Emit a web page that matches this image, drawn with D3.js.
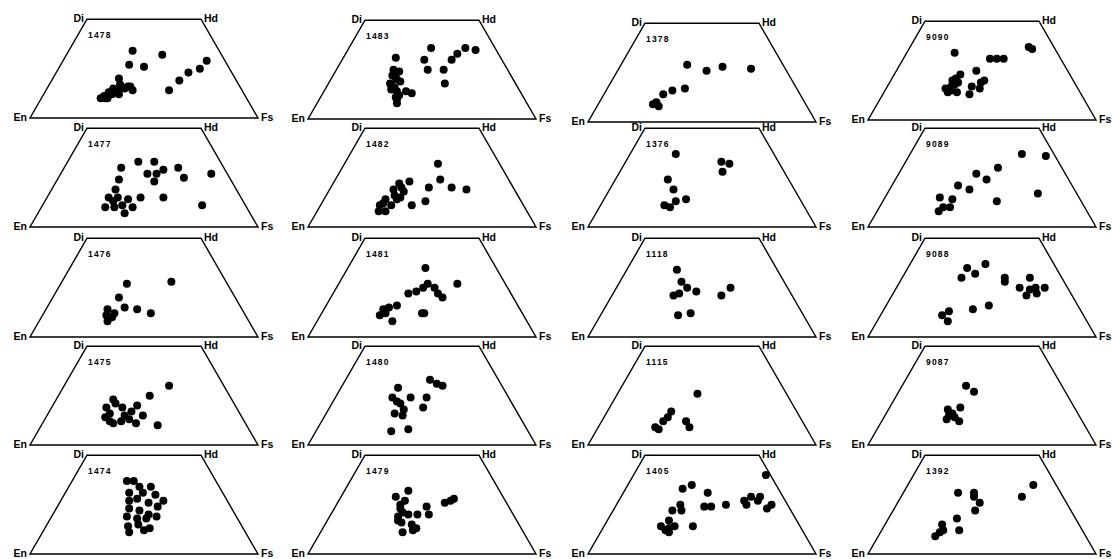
<!DOCTYPE html>
<html lang="en">
<head>
<meta charset="UTF-8">
<title>Pyroxene quadrilaterals</title>
<script src="https://d3js.org/d3.v7.min.js"></script>
<style>
  body { margin: 0; background: #fff; }
  svg text { font-family: "Liberation Sans", Arial, sans-serif; font-weight: bold; fill: #000; }
</style>
</head>
<body>
<div id="chart"></div>
<script>
    // analyses as [Wo, Fs] mol% (En = 100 - Wo - Fs)
    var s1478 = [[34,28],[32,42],[27,30],[26,37],[29,63],[25,62],[23,58],[19,56],[14,54],[20,29],[17,31],[16,36],[14,38],[15,34],[15,29],[13,28],[11,27],[10,26],[10,28],[12,30],[14,31],[16,32],[11,27],[13,30],[15,32],[16,35],[10,29],[12,33]];
    var s1477 = [[33,31],[33,38],[30,25],[24,27],[27,38],[27,42],[29,44],[23,43],[30,50],[25,55],[27,66],[15,51],[11,70],[19,28],[15,27],[15,31],[14,36],[15,41],[10,28],[10,32],[7,38],[10,40],[13,30],[11,35]];
    var s1476 = [[27,29],[28,48],[20,29],[14,27],[12,31],[15,34],[14,40],[12,47],[8,30],[11,28],[10,31]];
    var s1475 = [[30,46],[25,40],[23,25],[20,37],[15,42],[10,51],[19,24],[19,31],[14,26],[11,31],[12,34],[13,37],[11,41],[16,27],[15,34],[21,27],[17,36],[12,29]];
    var s1474 = [[37,24],[37,27],[34,31],[34,36],[31,28],[31,34],[30,40],[27,45],[27,30],[28,33],[26,39],[24,44],[23,32],[22,37],[20,42],[19,33],[18,38],[18,42],[19,46],[14,36],[15,40],[13,46],[11,38],[12,44]];

    var s1483 = [[31,23],[36,36],[30,36],[25,40],[25,47],[18,51],[36,51],[35,56],[33,49],[30,48],[25,25],[21,28],[17,28],[14,32],[19,31],[13,39],[8,35],[11,33],[24,28],[18,27],[14,36],[22,26],[20,29],[16,30],[12,34],[10,34],[15,29]];
    var s1482 = [[32,41],[23,33],[20,43],[24,46],[20,53],[19,60],[13,45],[11,40],[22,29],[19,28],[18,33],[14,27],[14,32],[12,27],[11,31],[8,27],[8,30],[15,33],[11,26],[16,30],[20,31]];
    var s1481 = [[35,34],[27,52],[27,39],[25,38],[22,33],[23,36],[25,43],[20,49],[22,46],[12,45],[12,44],[16,31],[15,28],[14,26],[11,26],[8,33],[12,28]];
    var s1480 = [[33,37],[30,44],[31,41],[29,25],[24,25],[24,33],[24,40],[19,41],[21,30],[18,33],[16,30],[15,34],[7,33],[8,40],[22,28]];
    var s1479 = [[32,28],[29,24],[27,29],[24,40],[20,38],[20,43],[26,47],[28,50],[27,49],[23,29],[19,30],[20,34],[16,33],[15,38],[13,41],[11,36],[12,40],[25,28],[17,31],[21,31]];

    var s1378 = [[29,29],[26,39],[28,45],[27,58],[17,34],[16,29],[14,26],[10,25],[9,24],[8,27]];
    var s1376 = [[37,20],[24,23],[19,28],[11,28],[10,31],[13,32],[14,36],[33,42],[32,46],[28,45]];
    var s1118 = [[34,22],[28,27],[25,31],[23,36],[22,29],[21,27],[25,50],[21,48],[11,34],[12,39]];
    var s1115 = [[26,35],[17,28],[14,28],[12,27],[9,25],[8,27],[12,37],[9,40]];
    var s1405 = [[40,58],[35,28],[33,25],[31,37],[25,28],[22,26],[22,30],[24,39],[24,42],[25,48],[27,55],[29,57],[29,61],[27,61],[25,57],[25,68],[23,67],[17,27],[14,31],[12,28],[11,30],[14,25],[14,39],[13,29]];

    var s9090 = [[34,21],[37,52],[36,54],[31,38],[31,41],[31,44],[25,35],[23,29],[20,27],[19,30],[17,28],[14,28],[14,32],[13,38],[17,37],[16,41],[20,41],[19,40],[21,28],[18,29],[15,29],[16,26]];
    var s9089 = [[37,49],[36,60],[30,42],[27,34],[24,40],[21,29],[19,35],[17,66],[13,50],[15,24],[14,30],[10,28],[8,27],[10,31]];
    var s9088 = [[35,26],[37,33],[32,31],[30,26],[30,45],[28,46],[30,56],[25,54],[24,59],[25,61],[25,65],[21,59],[22,63],[16,45],[14,39],[13,29],[11,27],[8,31]];
    var s9087 = [[30,28],[27,33],[19,31],[18,26],[16,29],[13,28],[12,34],[14,31],[15,28]];
    var s1392 = [[35,55],[29,53],[31,24],[31,31],[29,32],[26,36],[22,36],[18,30],[15,25],[12,27],[11,26],[9,25],[12,34]];

    // sample numbers, column by column
    var columnIds = [
        ["1478", "1477", "1476", "1475", "1474"],
        ["1483", "1482", "1481", "1480", "1479"],
        ["1378", "1376", "1118", "1115", "1405"],
        ["9090", "9089", "9088", "9087", "1392"]
    ];
    var columnData = [
        [s1478, s1477, s1476, s1475, s1474],
        [s1483, s1482, s1481, s1480, s1479],
        [s1378, s1376, s1118, s1115, s1405],
        [s9090, s9089, s9088, s9087, s1392]
    ];
    // quadrilateral corners as [Wo, Fs]
    var corners = [
        { name: "En", p: [0, 0] },
        { name: "Fs", p: [0, 100] },
        { name: "Hd", p: [50, 50] },
        { name: "Di", p: [50, 0] }
    ];

    var width = 1112, height = 559;
    var baseW = 228;
    var colLeft = [30, 308, 588, 868];
    var colShift = [-1, 0, 3, 1];
    var rowBottom = [119, 227, 337, 445, 554];

    var svg = d3.select("#chart").append("svg")
                .attr("width", width)
                .attr("height", height);

    columnIds.forEach(function(ids, ci) {
        ids.forEach(function(id, ri) {
            var x0 = colLeft[ci];
            // the scanned sheet is a little skewed: top row sits lower on the right
            var y0 = rowBottom[ri] + (ri === 0 ? colShift[ci] : 0);
            // along En-Fs base, and Wo height
            var x = d3.scaleLinear().domain([0, 100]).range([x0, x0 + baseW]);
            var y = d3.scaleLinear().domain([0, 100]).range([y0, y0 - baseW * Math.sqrt(3) / 2]);
            var px = function(d) { return x(d[1] + d[0] / 2); };
            var py = function(d) { return y(d[0]); };

            var g = svg.append("g");

            g.append("path")
             .attr("d", d3.line().x(d => px(d.p)).y(d => py(d.p))(corners) + "Z")
             .attr("fill", "none")
             .attr("stroke", "#000")
             .attr("stroke-width", 1.4);

            // corner labels
            var lab = g.selectAll(".corner")
                       .data(corners)
                       .enter().append("text")
                       .attr("class", "corner")
                       .attr("font-size", 10.5)
                       .text(d => d.name);
            lab.attr("x", d => px(d.p) + (d.p[1] + d.p[0] / 2 < 50 ? -3 : 3))
               .attr("y", d => py(d.p) + 3)
               .attr("text-anchor", d => (d.p[1] + d.p[0] / 2 < 50 ? "end" : "start"));

            g.append("text")
             .attr("x", px([50, 0]) + 1)
             .attr("y", py([50, 0]) + 19)
             .attr("font-size", 8.5)
             .attr("letter-spacing", 1.2)
             .text(id);

            g.selectAll(".dot")
             .data(columnData[ci][ri])
             .enter().append("circle")
             .attr("class", "dot")
             .attr("cx", px)
             .attr("cy", py)
             .attr("r", 4)
             .style("fill", "#000");
        });
    });
</script>
</body>
</html>
